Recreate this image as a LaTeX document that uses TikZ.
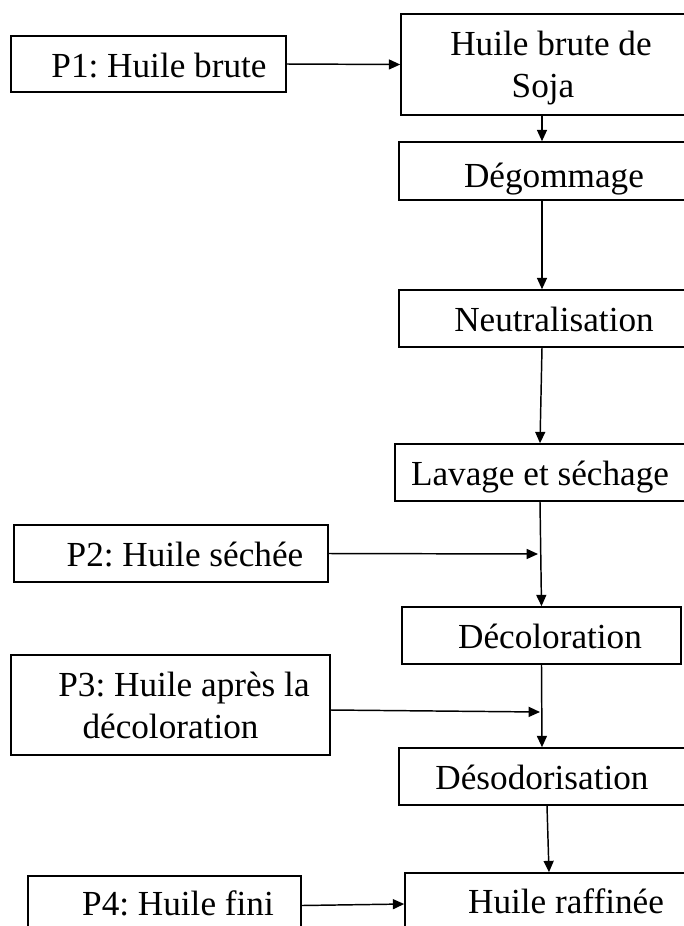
\documentclass[tikz,border=0pt]{standalone}
\usepackage{fontspec}
\setmainfont{Liberation Serif}
\usetikzlibrary{arrows.meta}
\frenchspacing
\begin{document}
\begin{tikzpicture}[x=0.75pt,y=-0.75pt,
  font=\fontsize{26.4}{31.5}\selectfont,
  box/.style={draw=black,line width=1.2pt,rectangle,inner sep=0pt},
  onel/.style={text height=20pt,text depth=0pt},
  flow/.style={draw=black,line width=1.1pt,-{Triangle[length=8.5pt,width=7.5pt]}}]
\useasboundingbox (0,0) rectangle (683,926);
% left boxes
\node[box,onel,minimum width=206.25pt,minimum height=42pt] (p1) at (148.5,64) {\hspace*{15.75pt}P1: Huile brute};
\node[box,onel,minimum width=235.5pt,minimum height=42.75pt] (p2) at (171,553.5) {\hspace*{21pt}P2: Huile séchée};
\node[box,align=center,minimum width=239.25pt,minimum height=75pt] (p3) at (170.5,705) {\hspace*{20.25pt}P3: Huile après la\\décoloration};
\node[box,text height=14.25pt,text depth=0pt,minimum width=204.75pt,minimum height=44.25pt] (p4) at (164.5,905.5) {\hspace*{20.25pt}P4: Huile fini};
% right column
\node[box,align=center,minimum width=213pt,minimum height=75.75pt] (soja) at (543,64.5) {\hspace*{12pt}Huile brute de\\\raisebox{0pt}[\height][0pt]{Soja}};
\node[box,text height=24pt,text depth=0pt,minimum width=214.5pt,minimum height=43.5pt] (deg) at (542,171) {\hspace*{18pt}Dégommage};
\node[box,onel,minimum width=214.5pt,minimum height=42.75pt] (neu) at (542,318.5) {\hspace*{18pt}Neutralisation};
\node[box,onel,minimum width=217.5pt,minimum height=42.75pt] (lav) at (540,472.5) {Lavage et séchage};
\node[box,onel,minimum width=209.25pt,minimum height=42.75pt] (dec) at (541.5,635.5) {\hspace*{12.75pt}Décoloration};
\node[box,onel,minimum width=214.5pt,minimum height=42.75pt] (des) at (542,776.5) {Désodorisation};
\node[box,text height=13.5pt,text depth=0pt,minimum width=210pt,minimum height=46.5pt] (raf) at (545,904) {\hspace*{31.5pt}Huile raffinée};
% junction points
\coordinate (j2) at (538,554);
\coordinate (j3) at (540,712);
% connectors
\draw[flow] (p1.east) -- (soja.west);
\draw[flow] (deg.north |- soja.south) -- (deg.north);
\draw[flow] (deg.south) -- (neu.north);
\draw[flow] (neu.south) -- (lav.north);
\draw[flow] (lav.south) -- (dec.north);
\draw[flow] (dec.south) -- (des.north);
\draw[flow] ([xshift=3.75pt]des.south) -- ([xshift=3pt]raf.north);
\draw[flow] (p2.east) -- (j2);
\draw[flow] ([yshift=-3.75pt]p3.east) -- (j3);
\draw[flow] (p4.east) -- (raf.west);
\end{tikzpicture}
\end{document}
